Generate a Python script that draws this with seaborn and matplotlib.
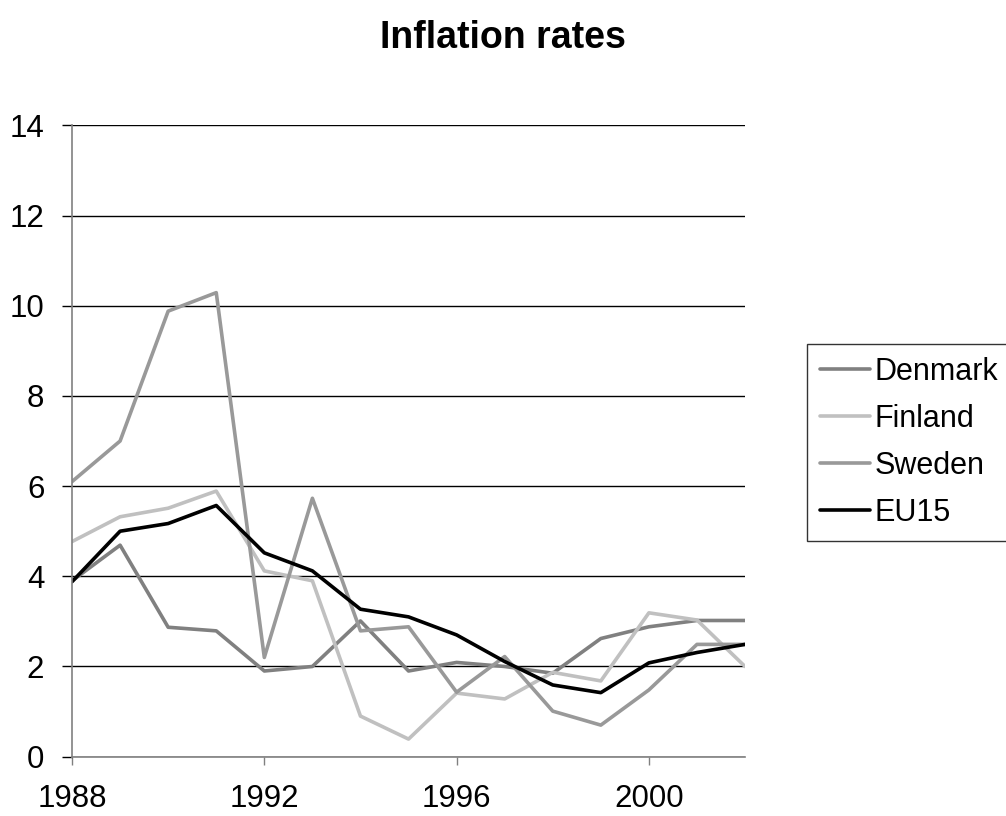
import pandas as pd
import matplotlib
matplotlib.use("Agg")
import matplotlib.pyplot as plt
import seaborn as sns

# Data
years = list(range(1988, 2003))
denmark = [3.9, 4.69, 2.87, 2.79, 1.9, 2.0, 3.01, 1.9, 2.09, 2.0, 1.85, 2.62, 2.88, 3.02, 3.02]
finland = [4.77, 5.32, 5.51, 5.89, 4.12, 3.9, 0.9, 0.39, 1.41, 1.28, 1.87, 1.68, 3.19, 3.03, 2.0]
sweden = [6.1, 7.0, 9.88, 10.29, 2.2, 5.73, 2.79, 2.88, 1.43, 2.22, 1.01, 0.7, 1.48, 2.49, 2.49]
eu15 = [3.88, 5.0, 5.17, 5.57, 4.52, 4.12, 3.27, 3.1, 2.7, 2.11, 1.59, 1.42, 2.08, 2.31, 2.49]

series = {"Denmark": denmark, "Finland": finland, "Sweden": sweden, "EU15": eu15}
colors = {"Denmark": "#808080", "Finland": "#c0c0c0", "Sweden": "#999999", "EU15": "#000000"}

records = []
for name, vals in series.items():
    records.append(pd.DataFrame({"Year": years, "Rate": vals, "Country": name}))
df = pd.concat(records, ignore_index=True)

sns.set_style("white")
plt.rcParams["font.family"] = ["Liberation Sans", "DejaVu Sans"]
plt.rcParams["text.color"] = "black"
plt.rcParams["xtick.color"] = "black"
plt.rcParams["ytick.color"] = "black"

fig = plt.figure(figsize=(10.06, 8.16), dpi=100)
ax = fig.add_axes([0.0716, 0.0727, 0.669, 0.7737])

sns.lineplot(data=df, x="Year", y="Rate", hue="Country", palette=colors,
             hue_order=list(series.keys()), linewidth=2.6, ax=ax, legend=False)

# Axes styling
ax.set_xlim(1988, 2002)
ax.set_ylim(0, 14)
ax.set_xticks([1988, 1992, 1996, 2000])
ax.set_yticks(range(0, 15, 2))
ax.yaxis.grid(True, color="black", linewidth=1)
ax.set_axisbelow(True)
for side in ["top", "right"]:
    ax.spines[side].set_visible(False)
for side in ["left", "bottom"]:
    ax.spines[side].set_color("#808080")
    ax.spines[side].set_linewidth(1.2)
ax.tick_params(axis="y", direction="out", length=7, width=1, color="black",
               labelcolor="black", labelsize=22.5, pad=13, left=True)
ax.tick_params(axis="x", direction="out", length=6, width=1, color="#808080",
               labelcolor="black", labelsize=22.5, pad=13.5, bottom=True)
ax.set_xlabel("")
ax.set_ylabel("")

fig.suptitle("Inflation rates", fontsize=27, fontweight="bold", color="black",
             x=0.5, y=0.975)

# Legend
handles = [plt.Line2D([], [], color=colors[n], linewidth=2.6) for n in series]
leg = ax.legend(handles, list(series.keys()), loc="center left",
                bbox_to_anchor=(0.802, 0.458), bbox_transform=fig.transFigure,
                fontsize=22, frameon=True, fancybox=False, borderaxespad=0,
                handlelength=1.65, handletextpad=0.15, labelspacing=0.56,
                borderpad=0.42)
leg.get_frame().set_edgecolor("black")
leg.get_frame().set_linewidth(1)
for t in leg.get_texts():
    t.set_color("black")

fig.savefig("out.png", dpi=100)
